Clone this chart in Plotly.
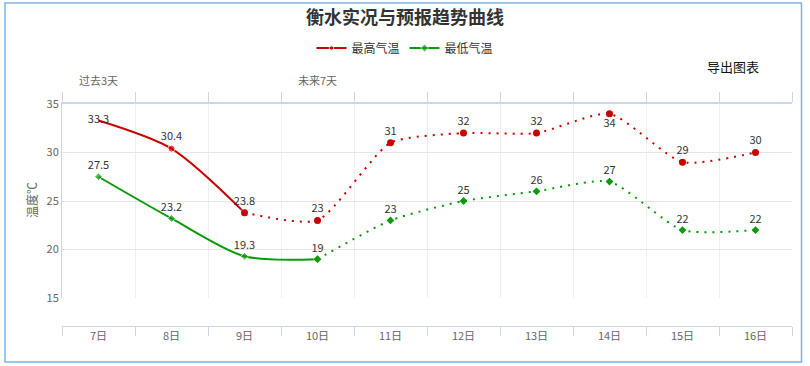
import plotly.graph_objects as go

# ---- data ----
days = ["7日", "8日", "9日", "10日", "11日", "12日", "13日", "14日", "15日", "16日"]
t_max = [33.3, 30.4, 23.8, 23, 31, 32, 32, 34, 29, 30]
t_min = [27.5, 23.2, 19.3, 19, 23, 25, 26, 27, 22, 22]
max_last_obs = 2   # index of last observed max point (solid line ends here)
min_last_obs = 3   # index of last observed min point
title_text = "衡水实况与预报趋势曲线"
y_ticks = [15, 20, 25, 30, 35]

FONT = "Noto Sans CJK SC, Noto Sans, sans-serif"
RED = "#c80000"
GREEN = "#089a08"

xs = list(range(len(days)))
fig = go.Figure()

def fmt(v):
    return ("%g" % v)

def add_series(name, vals, last_obs, color, symbol, msize, textpos, hide_first_marker=False):
    # solid (observed) part
    idx_s = xs[: last_obs + 1]
    sizes_s = [msize] * len(idx_s)
    if hide_first_marker:
        sizes_s[0] = 0
    fig.add_trace(go.Scatter(
        x=idx_s, y=[vals[i] for i in idx_s], name=name, legendgroup=name,
        mode="lines+markers+text",
        line=dict(color=color, width=2, shape="spline", smoothing=0.8),
        marker=dict(color=color, symbol=symbol, size=sizes_s),
        text=[fmt(vals[i]) for i in idx_s],
        textposition=[textpos[i] for i in idx_s],
        textfont=dict(family=FONT, size=11, color="#333"),
        hoverinfo="skip", cliponaxis=False,
    ))
    # dotted (forecast) part
    idx_d = xs[last_obs:]
    fig.add_trace(go.Scatter(
        x=idx_d, y=[vals[i] for i in idx_d], name=name, legendgroup=name,
        showlegend=False,
        mode="lines+markers+text",
        line=dict(color=color, width=2, shape="spline", smoothing=0.6, dash="2px,6px"),
        marker=dict(color=color, symbol=symbol, size=msize),
        text=[""] + [fmt(vals[i]) for i in idx_d[1:]],
        textposition=[textpos[i] for i in idx_d],
        textfont=dict(family=FONT, size=11, color="#333"),
        hoverinfo="skip", cliponaxis=False,
    ))

pos_max = ["middle center"] + ["top center"] * 9
pos_max[7] = "bottom center"
pos_min = ["top center"] * 10

add_series("最高气温", t_max, max_last_obs, RED, "circle", 7, pos_max, hide_first_marker=True)
add_series("最低气温", t_min, min_last_obs, GREEN, "diamond", 6, pos_min)

# invisible trace to activate top axis
fig.add_trace(go.Scatter(x=[0], y=[None], xaxis="x2", showlegend=False, hoverinfo="skip"))

W, H = 810, 366
L, R, T, B = 62, 18, 104, 40
plot_h = H - T - B
y_bottom_px = 298  # pixel of y=15
dom0 = (H - B - y_bottom_px) / plot_h
plot_w = W - L - R

def px_x(p):
    return (p - L) / plot_w

def px_y(p):
    return (H - B - p) / plot_h

boundaries = [i - 0.5 for i in range(len(days) + 1)]

fig.update_layout(
    width=W, height=H,
    margin=dict(l=L, r=R, t=T, b=B, pad=0),
    paper_bgcolor="white", plot_bgcolor="white",
    font=dict(family=FONT, size=12, color="#333"),
    title=dict(text=title_text, x=0.5, xanchor="center", xref="container",
               y=1 - 18 / H, yanchor="middle", yref="container",
               font=dict(family=FONT, size=18, color="#333", weight="bold")),
    legend=dict(orientation="h", x=0.5, xanchor="center", xref="container",
                y=1 - 48 / H, yanchor="middle", yref="container",
                font=dict(family=FONT, size=12, color="#333"),
                bgcolor="rgba(0,0,0,0)", itemwidth=30),
    xaxis=dict(
        range=[-0.5, len(days) - 0.5], anchor="free", position=0,
        tickmode="array", tickvals=xs, ticktext=days, ticks="",
        tickfont=dict(family=FONT, size=11, color="#666"),
        showgrid=False, zeroline=False,
        showline=True, linecolor="#ccd6eb", linewidth=1,
        minor=dict(tick0=-0.5, dtick=1, ticks="outside", ticklen=9,
                   tickcolor="#ccd6eb", tickwidth=1,
                   showgrid=True, gridcolor="#eeeeee", gridwidth=1),
        fixedrange=True,
    ),
    xaxis2=dict(
        range=[-0.5, len(days) - 0.5], overlaying="x", side="top", anchor="y",
        tickmode="array", tickvals=boundaries, ticks="outside", ticklen=10,
        tickcolor="#ccd6eb", tickwidth=1, showticklabels=False,
        showgrid=False, zeroline=False,
        showline=True, linecolor="#ccd6eb", linewidth=1.5,
        fixedrange=True,
    ),
    yaxis=dict(
        domain=[dom0, 1], range=[15, 35], tickmode="array", tickvals=y_ticks,
        ticks="", tickfont=dict(family=FONT, size=11, color="#666"),
        showgrid=True, gridcolor="#e6e6e6", gridwidth=1, zeroline=False,
        showline=True, linecolor="#ccd6eb", linewidth=1,
        fixedrange=True,
    ),
    annotations=[
        dict(text="过去3天", x=0, xref="x", y=px_y(80), yref="paper",
             showarrow=False, font=dict(family=FONT, size=11, color="#666"),
             xanchor="center", yanchor="middle"),
        dict(text="未来7天", x=3, xref="x", y=px_y(80), yref="paper",
             showarrow=False, font=dict(family=FONT, size=11, color="#666"),
             xanchor="center", yanchor="middle"),
        dict(text="导出图表", x=px_x(733), xref="paper", y=px_y(67), yref="paper",
             showarrow=False, font=dict(family=FONT, size=13, color="#111"),
             xanchor="center", yanchor="middle"),
        dict(text="温度℃", x=px_x(31), xref="paper", y=px_y(200), yref="paper",
             showarrow=False, textangle=-90,
             font=dict(family=FONT, size=12, color="#666"),
             xanchor="center", yanchor="middle"),
    ],
    shapes=[
        dict(type="rect", xref="paper", yref="paper",
             x0=px_x(5), x1=px_x(801.5), y0=px_y(362), y1=px_y(3),
             line=dict(color="#7eb3e8", width=1.5), fillcolor="rgba(0,0,0,0)",
             layer="below"),
    ],
)

fig.write_html("out.html", config={"displayModeBar": False},
               post_script="document.body.style.margin='0';document.body.style.overflow='hidden';")
